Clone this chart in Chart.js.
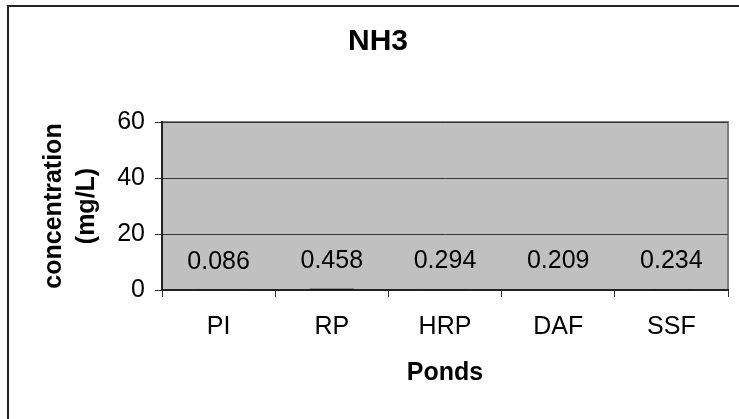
<!DOCTYPE html>
<html>
<head>
<meta charset="utf-8">
<script src="https://cdn.jsdelivr.net/npm/chart.js@4/dist/chart.umd.min.js"></script>
<style>
  html,body{margin:0;padding:0;background:#fff;overflow:hidden;}
  #wrap{position:relative;width:739px;height:419px;}
  #frame{position:absolute;left:7px;top:5px;width:760px;height:440px;border-left:2px solid #222;border-top:2px solid #222;}
  canvas{position:absolute;left:0;top:0;}
</style>
</head>
<body>
<div id="wrap">
  <div id="frame"></div>
  <canvas id="chart" width="739" height="419"></canvas>
</div>
<script>
// ================= DATA =================
const ponds = ["PI","RP","HRP","DAF","SSF"];
const nh3Values = [0.086,0.458,0.294,0.209,0.234];
const yTicks = [0,20,40,60];

const FONT = "'Liberation Sans', Arial, sans-serif";

// ================= PLUGINS =================
const plotBg = {
  id:"plotBg",
  beforeDraw(chart){
    const {ctx, chartArea:a} = chart;
    ctx.save();
    ctx.fillStyle = "#c0c0c0";
    ctx.fillRect(a.left, a.top, a.right-a.left, a.bottom-a.top);
    ctx.strokeStyle = "#808080";
    ctx.lineWidth = 2;
    ctx.strokeRect(a.left, a.top, a.right-a.left, a.bottom-a.top);
    ctx.restore();
  }
};

const valueLabels = {
  id:"valueLabels",
  afterDatasetsDraw(chart){
    const {ctx} = chart;
    const meta = chart.getDatasetMeta(0);
    ctx.save();
    ctx.font = "25px " + FONT;
    ctx.fillStyle = "#000";
    ctx.textAlign = "center";
    ctx.textBaseline = "middle";
    meta.data.forEach((bar,i)=>{
      ctx.fillText(String(nh3Values[i]), bar.x, bar.y - 28);
    });
    ctx.restore();
  }
};

// ================= CHART =================
new Chart(document.getElementById("chart"),{
  type:"bar",
  data:{
    labels:ponds,
    datasets:[{
      label:"NH3",
      data:nh3Values,
      backgroundColor:"#000",
      borderWidth:0,
      barPercentage:0.39,
      categoryPercentage:1
    }]
  },
  options:{
    responsive:false,
    animation:false,
    layout:{padding:{left:28,right:11,top:0,bottom:0}},
    plugins:{
      legend:{display:false},
      tooltip:{enabled:false},
      title:{
        display:true,
        text:"NH3",
        color:"#000",
        font:{family:FONT,size:30,weight:"bold",lineHeight:1.2},
        padding:{top:24,bottom:62}
      }
    },
    scales:{
      x:{
        grid:{display:true,drawOnChartArea:false,drawTicks:true,tickLength:7,color:"#333",offset:true},
        border:{display:true,color:"#222",width:2},
        ticks:{color:"#000",font:{family:FONT,size:25},padding:15,maxRotation:0},
        title:{display:true,text:"Ponds",color:"#000",
          font:{family:FONT,size:25,weight:"bold",lineHeight:1.2},
          padding:{top:0,bottom:31}},
        afterFit(scale){ scale.height = 129; }
      },
      y:{
        min:0,max:60,
        afterBuildTicks(scale){ scale.ticks = yTicks.map(v=>({value:v})); },
        grid:{color:"#333",lineWidth:1,tickLength:7,drawTicks:true},
        border:{display:true,color:"#222",width:2},
        ticks:{color:"#000",font:{family:FONT,size:25},padding:10},
        title:{display:true,text:["concentration","(mg/L)"],color:"#000",
          font:{family:FONT,size:25,weight:"bold",lineHeight:1.32},
          padding:{top:10,bottom:0}},
        afterFit(scale){ scale.width = 134; }
      }
    }
  },
  plugins:[plotBg,valueLabels]
});
</script>
</body>
</html>
